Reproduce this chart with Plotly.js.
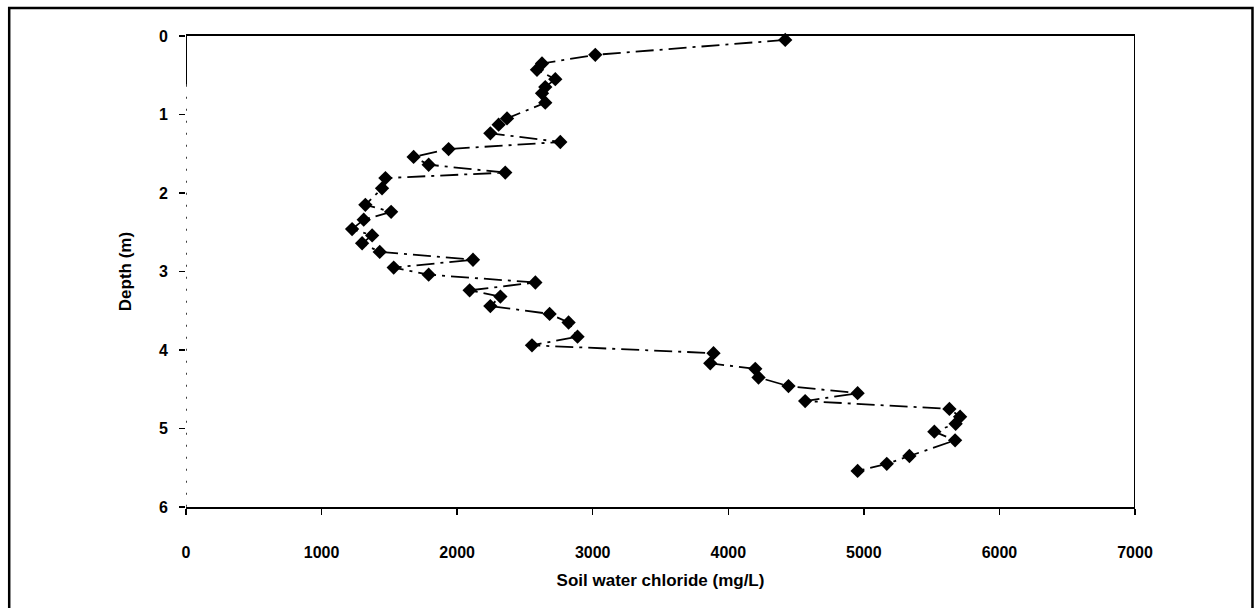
<!DOCTYPE html>
<html>
<head>
<meta charset="utf-8">
<script src="https://cdn.plot.ly/plotly-3.0.1.min.js"></script>
<style>
html,body{margin:0;padding:0;background:#fff;overflow:hidden;}
#chart{width:1258px;height:608px;}
</style>
</head>
<body>
<div id="chart"></div>
<script>
// Soil water chloride (mg/L) vs depth (m)
const depth = [0.05,0.24,0.35,0.43,0.55,0.65,0.73,0.85,1.05,1.13,1.24,1.35,1.44,1.54,1.64,1.74,1.81,1.94,2.15,2.24,2.34,2.46,2.54,2.64,2.75,2.85,2.95,3.04,3.14,3.24,3.32,3.44,3.54,3.65,3.83,3.94,4.04,4.17,4.24,4.35,4.46,4.55,4.65,4.75,4.85,4.94,5.04,5.15,5.35,5.45,5.54];
const chloride = [4420,3019,2626,2589,2724,2650,2626,2650,2368,2306,2245,2761,1937,1679,1790,2355,1471,1446,1323,1513,1311,1225,1373,1299,1429,2117,1532,1790,2577,2092,2319,2245,2682,2822,2888,2552,3891,3867,4199,4223,4444,4954,4567,5631,5710,5677,5520,5673,5336,5169,4954];
const xTicks = [0,1000,2000,3000,4000,5000,6000,7000];
const yTicks = [0,1,2,3,4,5,6];
const xTitle = 'Soil water chloride (mg/L)';
const yTitle = 'Depth (m)';

const fontFam = 'Liberation Sans, Arial, sans-serif';

const trace = {
  x: chloride,
  y: depth,
  type: 'scatter',
  mode: 'lines+markers',
  line: {color: '#000', width: 1.8, dash: '18px,6px,3px,6px'},
  marker: {symbol: 'diamond', size: 11, color: '#000'},
  cliponaxis: false,
  showlegend: false
};

const layout = {
  width: 1258,
  height: 608,
  margin: {l: 185.5, r: 123, t: 36, b: 101.3, pad: 0},
  paper_bgcolor: '#fff',
  plot_bgcolor: '#fff',
  font: {family: fontFam, color: '#000', size: 16},
  xaxis: {
    range: [0, 7000],
    tickvals: xTicks,
    ticktext: xTicks.map(String),
    ticks: 'outside',
    ticklen: 6,
    tickwidth: 1.5,
    tickcolor: '#000',
    showline: true,
    mirror: true,
    linecolor: '#000',
    linewidth: 2,
    showgrid: false,
    zeroline: false,
    tickfont: {family: fontFam, size: 16, color: '#000', weight: 'bold'},
    ticklabelstandoff: 24,
    title: {text: xTitle, font: {family: fontFam, size: 17, color: '#000', weight: 'bold'}, standoff: 14}
  },
  yaxis: {
    range: [6, 0],
    tickvals: yTicks,
    ticktext: yTicks.map(String),
    ticks: 'outside',
    ticklen: 6,
    tickwidth: 1.5,
    tickcolor: '#000',
    showline: false,
    showgrid: false,
    zeroline: false,
    tickfont: {family: fontFam, size: 16, color: '#000', weight: 'bold'},
    ticklabelstandoff: 8,
    title: {text: yTitle, font: {family: fontFam, size: 17, color: '#000', weight: 'bold'}, standoff: 22}
  },
  shapes: [
    // left axis: solid near top, broken below (as in the scan)
    {type: 'line', xref: 'x', yref: 'y', x0: 0, x1: 0, y0: 0, y1: 0.62, line: {color: '#000', width: 2}},
    {type: 'line', xref: 'x', yref: 'y', x0: 0, x1: 0, y0: 0.62, y1: 6, line: {color: '#000', width: 1.5, dash: '2px,10px'}},
    // right frame line
    {type: 'line', xref: 'x', yref: 'y', x0: 7000, x1: 7000, y0: 0, y1: 6, line: {color: '#000', width: 2}},
    // outer picture border
    {type: 'rect', xref: 'paper', yref: 'paper', x0: -0.1863, x1: 1.1238, y0: -0.25, y1: 1.0595, line: {color: '#000', width: 2.5}, fillcolor: 'rgba(0,0,0,0)'}
  ]
};

Plotly.newPlot('chart', [trace], layout, {staticPlot: true, displayModeBar: false});
</script>
</body>
</html>
